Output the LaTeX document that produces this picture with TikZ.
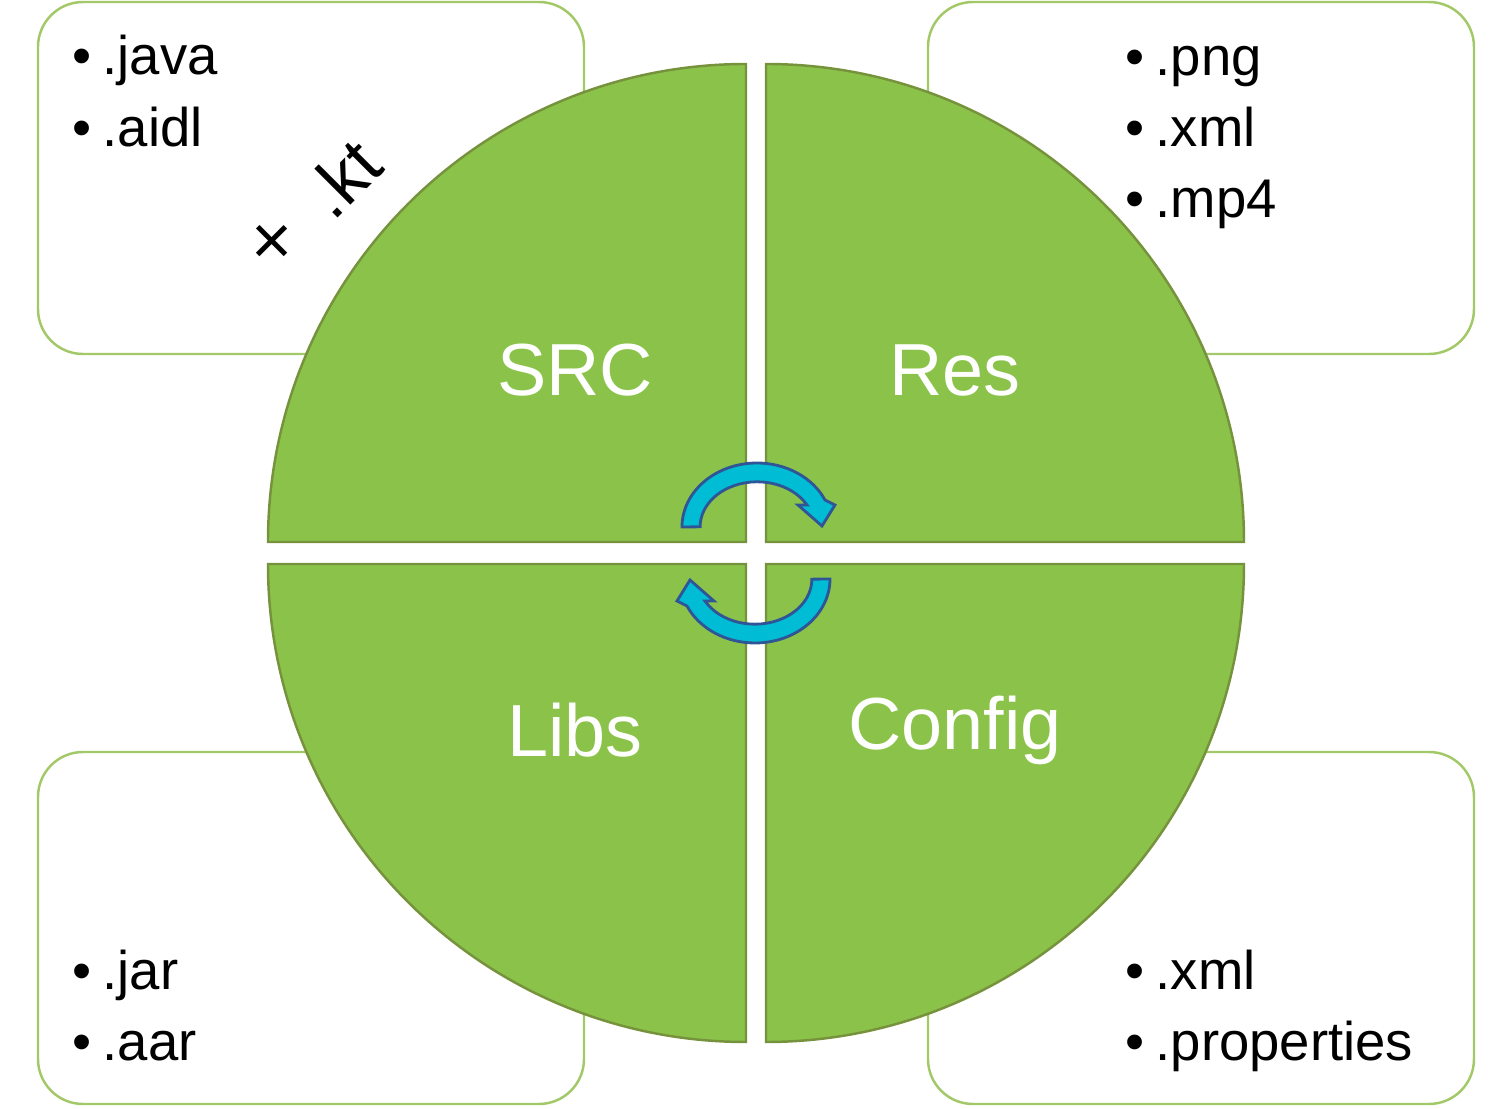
\documentclass[tikz,border=0pt]{standalone}
\usepackage{fontspec}
\setmainfont{Liberation Sans}
\usetikzlibrary{positioning}
\definecolor{quartergreen}{RGB}{139,195,74}
\definecolor{quarteredge}{RGB}{118,146,60}
\definecolor{boxedge}{RGB}{163,200,104}
\definecolor{turncyan}{RGB}{0,188,212}
\definecolor{turnedge}{RGB}{47,85,151}
\tikzset{
  filebox/.style={
    draw=boxedge,
    line width=0.7pt,
    rounded corners=0.45cm,
    minimum width=5.46cm,
    minimum height=3.52cm,
    fill=white
  },
  quarter/.style={draw=quarteredge, fill=quartergreen, line width=0.7pt},
  part/.style={text=white, inner sep=0pt, font=\fontsize{21}{25}\selectfont},
  ext/.style={anchor=base west, inner sep=0pt, font=\fontsize{15.5}{18}\selectfont},
  turn/.style={draw=turnedge, fill=turncyan, line width=0.8pt}
}
\newcommand{\dotitem}[1]{\makebox[0.3cm][l]{\textbullet}#1}

\begin{document}
\begin{tikzpicture}
  \useasboundingbox (-7.56,-5.56) rectangle (7.56,5.53);

  % file boxes behind the circle
  \node[filebox] (srcbox) at (-4.45,3.75) {};
  \node[filebox] (resbox) at (4.45,3.75) {};
  \node[filebox] (libsbox) at (-4.45,-3.75) {};
  \node[filebox] (configbox) at (4.45,-3.75) {};

  % four quarters
  \draw[quarter] (-0.1,0.11) -- ++(-4.78,0) arc (180:90:4.78) -- cycle;
  \draw[quarter] (0.1,0.11) -- ++(0,4.78) arc (90:0:4.78) -- cycle;
  \draw[quarter] (-0.1,-0.11) -- ++(0,-4.78) arc (270:180:4.78) -- cycle;
  \draw[quarter] (0.1,-0.11) -- ++(4.78,0) arc (0:-90:4.78) -- cycle;

  \node[part] (src) at (-1.81,1.83) {SRC};
  \node[part] (res) at (1.99,1.83) {Res};
  \node[part] (libs) at (-1.81,-1.77) {Libs};
  \node[part] (config) at (1.99,-1.77) {Config};

  % turning arrows
  \foreach \r in {0,180} {
    \draw[turn, rotate=\r] (-0.74,0.26)
      arc[start angle=180, end angle=25, x radius=0.75, y radius=0.64]
      -- (0.79,0.48) -- (0.66,0.27) -- (0.42,0.48) -- (0.51,0.48)
      arc[start angle=29, end angle=180, x radius=0.57, y radius=0.45]
      -- cycle;
  }

  % extensions
  \node[ext] (java) at (-6.84,4.78) {\dotitem{.java}};
  \node[ext] (aidl) at ([yshift=-0.72cm]java.base west) {\dotitem{.aidl}};
  \node[font=\fontsize{20}{24}\selectfont, inner sep=0pt] (cross) at (-4.84,3.08) {×};
  \node[font=\fontsize{20}{24}\selectfont, inner sep=0pt, rotate=45] (kt) at (-4.14,3.75) {.kt};

  \node[ext] (png) at (3.69,4.77) {\dotitem{.png}};
  \node[ext] (resxml) at ([yshift=-0.71cm]png.base west) {\dotitem{.xml}};
  \node[ext] (mpfour) at ([yshift=-0.71cm]resxml.base west) {\dotitem{.mp4}};

  \node[ext] (jar) at (-6.84,-4.37) {\dotitem{.jar}};
  \node[ext] (aar) at ([yshift=-0.71cm]jar.base west) {\dotitem{.aar}};

  \node[ext] (configxml) at (3.69,-4.37) {\dotitem{.xml}};
  \node[ext] (props) at ([yshift=-0.71cm]configxml.base west) {\dotitem{.properties}};
\end{tikzpicture}
\end{document}
